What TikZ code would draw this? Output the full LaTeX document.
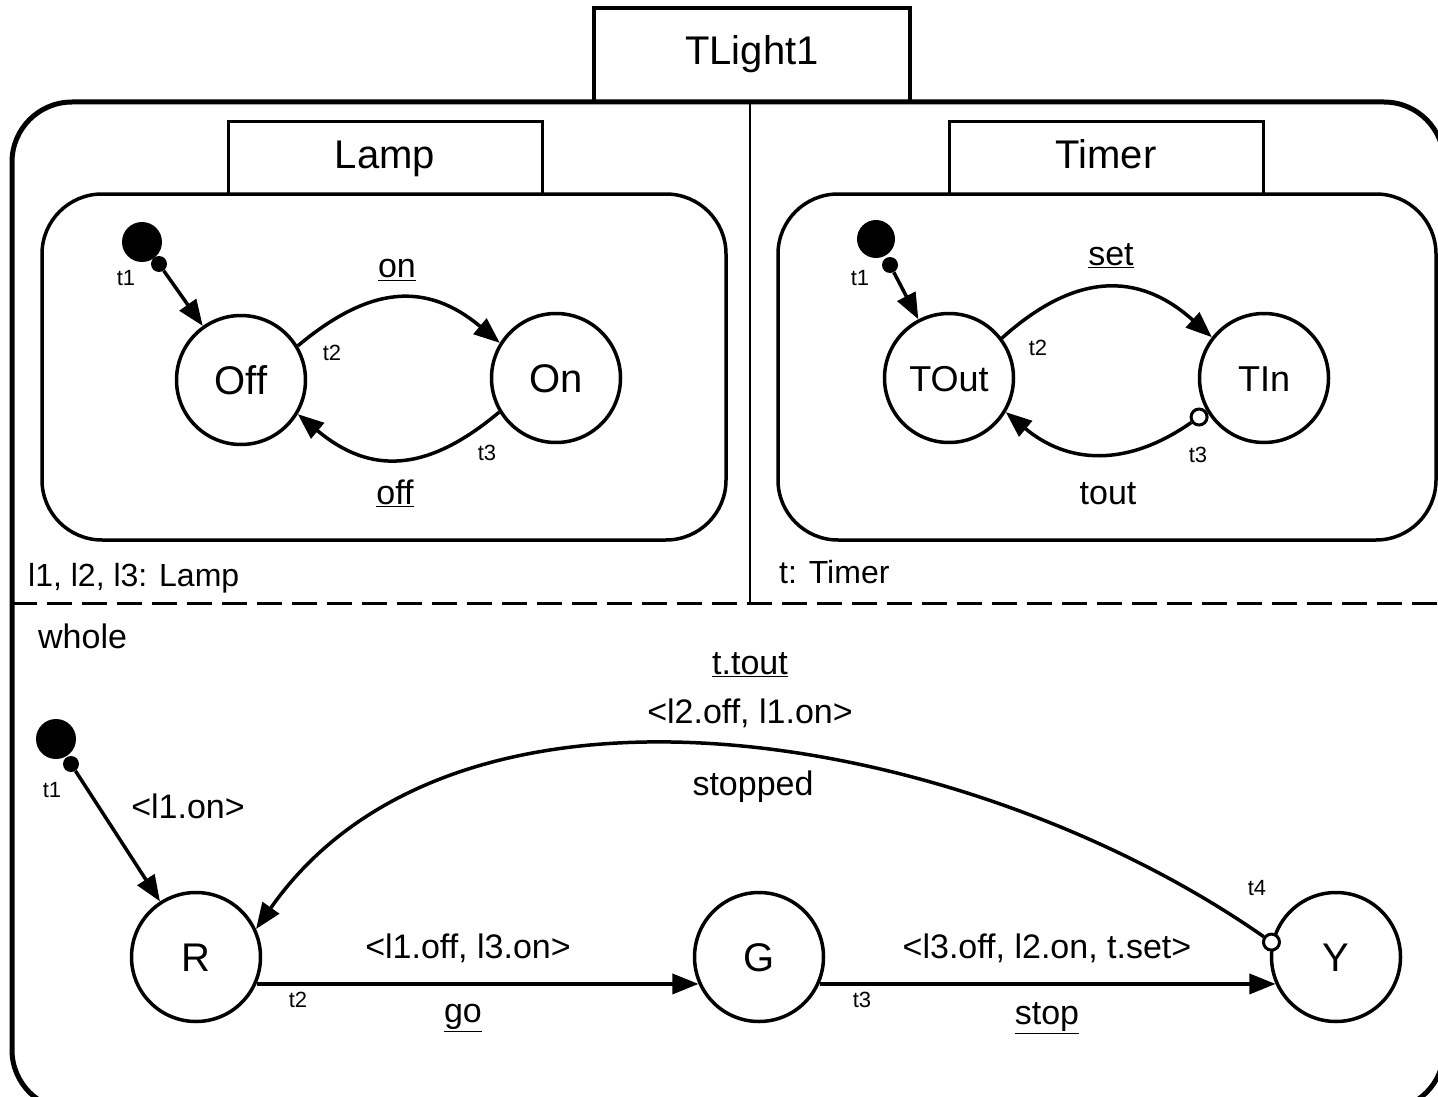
\documentclass[tikz,border=0pt]{standalone}
\usepackage{fontspec}
\setmainfont{Liberation Sans}
\usepackage{tikz}
\usetikzlibrary{arrows.meta, positioning}
\newcommand{\titlefont}{\fontsize{40}{48}\selectfont}
\newcommand{\statefont}{\fontsize{40}{48}\selectfont}
\newcommand{\tstatefont}{\fontsize{36}{43}\selectfont}
\newcommand{\labfont}{\fontsize{34}{41}\selectfont}
\newcommand{\declfont}{\fontsize{32}{38}\selectfont}
\newcommand{\tlabfont}{\fontsize{22}{26}\selectfont}

\begin{document}
\begin{tikzpicture}[x=1pt, y=-1pt,
    state/.style={circle, draw, line width=3.5pt, minimum size=129pt, inner sep=0pt, font=\statefont, text height=29pt, text depth=0pt},
    tstate/.style={state, font=\tstatefont, text height=26pt},
    initbig/.style={circle, fill, minimum size=40pt, inner sep=0pt},
    initsmall/.style={circle, fill, minimum size=16pt, inner sep=0pt},
    opendot/.style={circle, draw, fill=white, line width=3pt, minimum size=16pt, inner sep=0pt},
    trans/.style={line width=3.5pt, -{Triangle[length=26pt, width=20pt]}},
    tab/.style={draw, line width=3pt, minimum width=314pt, minimum height=72pt, font=\titlefont, text height=29pt, text depth=9pt},
    lbl/.style={font=\labfont, inner sep=0pt},
    tlbl/.style={font=\tlabfont, inner sep=0pt}]
    \useasboundingbox (0,0) rectangle (1438,1097);

    % frames
    \draw[line width=5pt, rounded corners=60pt] (12,102) rectangle (1444,1110);
    \node[tab, line width=3.5pt, minimum width=316pt, minimum height=94pt] (tlight) at (752,55) {TLight1};
    \draw[line width=2.5pt] (750,102) -- (750,603);
    \draw[line width=3pt, dash pattern=on 25pt off 10pt] (12,603) -- (1438,603);
    \node[font=\declfont, anchor=west, inner sep=0pt] (ldecl) at (28,578) {l1, l2, l3: Lamp};
    \node[font=\declfont, anchor=west, inner sep=0pt] (tdecl) at (779,572) {t: Timer};
    \node[font=\labfont, anchor=west, inner sep=0pt] (whole) at (38,636) {whole};

    % Lamp
    \node[tab] (lamptab) at (385,158) {Lamp};
    \draw[line width=3.5pt, rounded corners=60pt] (42,194) rectangle (726,540);
    \node[state] (off) at (241,380) {Off};
    \node[state] (on) at (556,378) {On};
    \node[initbig] (lbig) at (142,242) {};
    \node[initsmall] (lsmall) at (159,264) {};
    \draw[trans] (lsmall) -- (off);
    \draw[trans] (off.31) to[out=40, in=140, looseness=1.2] (on.148);
    \draw[trans] (on.211) to[out=-140, in=-40, looseness=1.2] (off.-31);
    \node[tlbl] (lt1) at (126,278) {t1};
    \node[tlbl] (lt2) at (332,353) {t2};
    \node[tlbl] (lt3) at (487,453) {t3};
    \node[lbl] (lon) at (397,270) {\underline{on}};
    \node[lbl] (loff) at (395,493) {\underline{off}};

    % Timer
    \node[tab] (timertab) at (1106,158) {Timer};
    \draw[line width=3.5pt, rounded corners=60pt] (778,194) rectangle (1436,540);
    \node[tstate] (tout) at (949,378) {TOut};
    \node[tstate] (tin) at (1264,378) {TIn};
    \node[initbig, minimum size=38pt] (tbig) at (876,239) {};
    \node[initsmall] (tsmall) at (890,265) {};
    \draw[trans] (tsmall) -- (tout);
    \draw[trans] (tout.37) to[out=42, in=138, looseness=1.2] (tin.142);
    \node[opendot, anchor=31] (tindot) at (tin.211) {};
    \draw[trans] (tindot) to[out=-145, in=-40, looseness=1.1] (tout.-31);
    \node[tlbl] (tt1) at (860,278) {t1};
    \node[tlbl] (tt2) at (1038,348) {t2};
    \node[tlbl] (tt3) at (1198,455) {t3};
    \node[lbl] (tset) at (1111,256) {\underline{set}};
    \node[lbl] (ttout) at (1108,494) {tout};

    % whole
    \node[state] (r) at (196,957) {R};
    \node[state] (g) at (759,957) {G};
    \node[state] (y) at (1336,957) {Y};
    \node[initbig] (wbig) at (56,739) {};
    \node[initsmall] (wsmall) at (71,764) {};
    \draw[trans] (wsmall) -- (r);
    \draw[trans] (r.-24) -- (g.204);
    \draw[trans] (g.-24) -- (y.204);
    \node[opendot] (ydot) at (y.167) {};
    \draw[trans] (ydot) to[out=145, in=55, looseness=0.9] (r.25);
    \node[tlbl] (wt1) at (52,790) {t1};
    \node[tlbl] (wt2) at (298,1000) {t2};
    \node[tlbl] (wt3) at (862,1000) {t3};
    \node[tlbl] (wt4) at (1257,888) {t4};
    \node[lbl] (ron) at (188,806) {<l1.on>};
    \node[lbl] (goact) at (468,948) {<l1.off, l3.on>};
    \node[lbl] (go) at (463,1018) {\underline{go}};
    \node[lbl] (stopact) at (1047,948) {<l3.off, l2.on, t.set>};
    \node[lbl] (stop) at (1047,1018) {\underline{stop}};
    \node[lbl] (ttoutev) at (750,665) {\underline{t.tout}};
    \node[lbl] (stoppedact) at (750,713) {<l2.off, l1.on>};
    \node[lbl] (stopped) at (753,787) {stopped};
\end{tikzpicture}
\end{document}
